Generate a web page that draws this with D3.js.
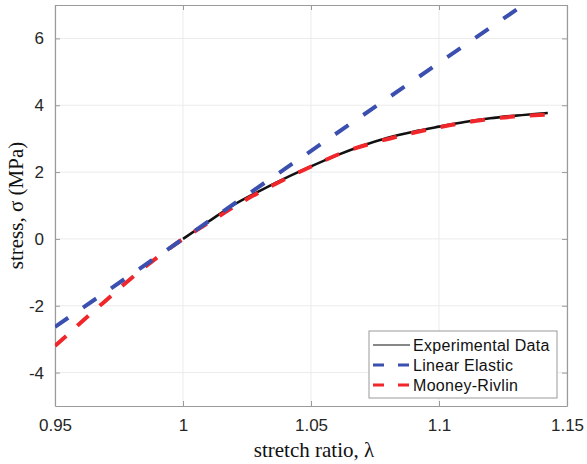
<!DOCTYPE html>
<html>
<head>
<meta charset="utf-8">
<script src="https://cdn.jsdelivr.net/npm/d3@7"></script>
<style>
  body { margin: 0; background: #fff; }
  .tick text { font-family: "Liberation Sans", Arial, sans-serif; font-size: 17px; fill: #262626; }
  .axis-label { font-family: "Liberation Serif", "Times New Roman", serif; font-size: 21px; fill: #111; }
  .legend text { font-family: "Liberation Sans", Arial, sans-serif; font-size: 16px; letter-spacing: 0.3px; fill: #111; }
</style>
</head>
<body>
<div class="chart-wrapper"></div>
<script>
// values
const xTicks = [0.95, 1, 1.05, 1.1, 1.15]
const yTicks = [-4, -2, 0, 2, 4, 6]

const expLambda = [1.0, 1.01, 1.02, 1.03, 1.04, 1.05, 1.06, 1.07, 1.08, 1.09, 1.10, 1.11, 1.12, 1.13, 1.1425]
const expStress = [0, 0.52, 1.03, 1.44, 1.82, 2.17, 2.50, 2.79, 3.03, 3.21, 3.36, 3.50, 3.61, 3.69, 3.77]

const linLambda = [0.95, 1.0, 1.15]
const linStress = [-2.63, 0, 7.9]

const mrLambda = [0.95, 0.955, 0.961, 0.966, 0.972, 0.977, 0.983, 0.99, 1.0, 1.012, 1.022, 1.038, 1.051, 1.063, 1.076, 1.089, 1.098, 1.104, 1.117, 1.129, 1.142]
const mrStress = [-3.2, -2.86, -2.44, -2.1, -1.7, -1.36, -0.97, -0.55, 0, 0.58, 1.06, 1.72, 2.2, 2.6, 2.91, 3.16, 3.31, 3.4, 3.56, 3.66, 3.72]

const legendNames = ['Experimental Data', 'Linear Elastic', 'Mooney-Rivlin']

const width = 587, height = 464
const margin = {left:55, top:5, right:20, bottom:58}

const svg = d3.select('.chart-wrapper')
.append('svg')
.attr('width', width)
.attr('height', height)

const xScale = d3.scaleLinear()
.domain([0.95, 1.15])
.range([margin.left, width - margin.right])

const yScale = d3.scaleLinear()
.domain([-5, 7])
.range([height - margin.bottom, margin.top])

const x0 = margin.left, x1 = width - margin.right
const y0 = height - margin.bottom, y1 = margin.top

svg.append('defs').append('clipPath').attr('id', 'plot-clip')
.append('rect')
.attr('x', x0).attr('y', y1).attr('width', x1 - x0).attr('height', y0 - y1)

// grid
const grid = svg.append('g').attr('class', 'grid')
grid.selectAll('.gx').data(xTicks).enter().append('line')
.attr('x1', d => xScale(d)).attr('x2', d => xScale(d))
.attr('y1', y1).attr('y2', y0)
.attr('stroke', '#ebebeb').attr('stroke-width', 1)
grid.selectAll('.gy').data(yTicks).enter().append('line')
.attr('x1', x0).attr('x2', x1)
.attr('y1', d => yScale(d)).attr('y2', d => yScale(d))
.attr('stroke', '#ebebeb').attr('stroke-width', 1)

// axes (ticks inward, box)
const fmt = d => String(d)
const axis = svg.append('g')

axis.append('g')
.attr('transform', `translate(0,${y0})`)
.call(d3.axisBottom(xScale).tickValues(xTicks).tickFormat(fmt).tickSizeInner(-5).tickSizeOuter(0).tickPadding(13))
axis.append('g')
.attr('transform', `translate(0,${y1})`)
.call(d3.axisTop(xScale).tickValues(xTicks).tickFormat('').tickSizeInner(-5).tickSizeOuter(0))
axis.append('g')
.attr('transform', `translate(${x0},0)`)
.call(d3.axisLeft(yScale).tickValues(yTicks).tickFormat(fmt).tickSizeInner(-5).tickSizeOuter(0).tickPadding(11))
axis.append('g')
.attr('transform', `translate(${x1},0)`)
.call(d3.axisRight(yScale).tickValues(yTicks).tickFormat('').tickSizeInner(-5).tickSizeOuter(0))

axis.selectAll('.domain').attr('stroke', '#9a9a9a').attr('stroke-width', 1.2)
axis.selectAll('.tick line').attr('stroke', '#9a9a9a')

// axis labels
svg.append('text')
.attr('class', 'axis-label')
.attr('x', (x0 + x1) / 2 + 3)
.attr('y', 457)
.attr('text-anchor', 'middle')
.text('stretch ratio, λ')

svg.append('text')
.attr('class', 'axis-label')
.attr('transform', `translate(23,${(y0 + y1) / 2}) rotate(-90)`)
.attr('text-anchor', 'middle')
.text('stress, σ (MPa)')

// lines
const line = d3.line()
.curve(d3.curveMonotoneX)
.x(d => xScale(d[0]))
.y(d => yScale(d[1]))

const lines = svg.append('g').attr('clip-path', 'url(#plot-clip)')

lines.append('path')
.datum(d3.zip(expLambda, expStress))
.attr('d', line)
.attr('fill', 'none')
.attr('stroke', '#111')
.attr('stroke-width', 2.6)

lines.append('path')
.datum(d3.zip(mrLambda, mrStress))
.attr('d', line)
.attr('fill', 'none')
.attr('stroke', '#f0262b')
.attr('stroke-width', 4)
.attr('stroke-dasharray', '15,15')

lines.append('path')
.datum(d3.zip(linLambda, linStress))
.attr('d', d3.line().x(d => xScale(d[0])).y(d => yScale(d[1])))
.attr('fill', 'none')
.attr('stroke', '#3a4fae')
.attr('stroke-width', 4)
.attr('stroke-dasharray', '16,18')

// legend
const legend = svg.append('g').attr('class', 'legend')
legend.append('rect')
.attr('x', 369).attr('y', 331).attr('width', 188).attr('height', 67)
.attr('fill', '#fff').attr('stroke', '#9a9a9a').attr('stroke-width', 1)

const legendStyles = [
  {color:'#111', width:1, dash:null},
  {color:'#3a4fae', width:3, dash:'11,14'},
  {color:'#f0262b', width:3, dash:'11,14'}
]

legendNames.forEach((name, i) => {
  const ly = 345 + i * 20
  legend.append('line')
  .attr('x1', 373).attr('x2', 410)
  .attr('y1', ly).attr('y2', ly)
  .attr('stroke', legendStyles[i].color)
  .attr('stroke-width', legendStyles[i].width)
  .attr('stroke-dasharray', legendStyles[i].dash)
  legend.append('text')
  .attr('x', 413).attr('y', ly + 6)
  .text(name)
})
</script>
</body>
</html>
